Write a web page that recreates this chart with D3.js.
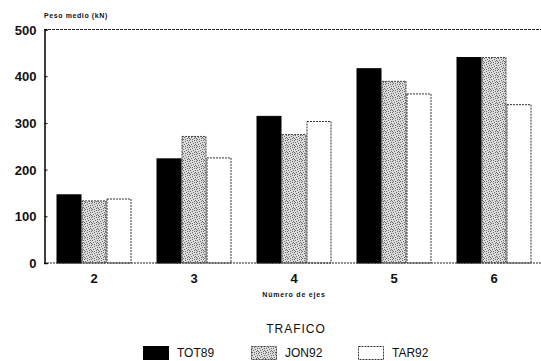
<!DOCTYPE html>
<html><head><meta charset="utf-8">
<script src="https://cdn.jsdelivr.net/npm/d3@7/dist/d3.min.js"></script>
<style>
html,body{margin:0;padding:0;background:#fff;}
svg{display:block;}
text{font-family:"Liberation Sans",Arial,sans-serif;fill:#111;}
</style></head>
<body>
<script>
const categories = ["2","3","4","5","6"];
const seriesNames = ["TOT89","JON92","TAR92"];
const TOT89 = [146, 223, 314, 416, 440];
const JON92 = [133, 271, 275, 389, 440];
const TAR92 = [137, 225, 303, 362, 339];
const yTicks = [0,100,200,300,400,500];
const yTitle = "Peso medio (kN)";
const xTitle = "Número de ejes";
const legendTitle = "TRAFICO";

const W=541,H=361;
const svg=d3.select("body").append("svg").attr("width",W).attr("height",H);
const defs=svg.append("defs");
// stipple pattern
const pat=defs.append("pattern").attr("id","stip").attr("patternUnits","userSpaceOnUse").attr("width",7).attr("height",7);
pat.append("rect").attr("width",7).attr("height",7).attr("fill","#dcdcdc");
const dots=[[0,0],[3,1],[5,0],[1,2],[4,3],[6,2],[2,4],[0,5],[5,5],[3,6],[6,4],[1,6]];
dots.forEach(d=>pat.append("rect").attr("x",d[0]).attr("y",d[1]).attr("width",1).attr("height",1).attr("fill","#6a6a6a"));

const x0=d3.scaleBand().domain(categories).range([44,544]).paddingInner(0.25).paddingOuter(0.125);
const x1=d3.scaleBand().domain(seriesNames).range([0,x0.bandwidth()]);
const y=d3.scaleLinear().domain([0,500]).range([263,29.5]);

const data={TOT89,JON92,TAR92};
const fills={TOT89:"#000",JON92:"url(#stip)",TAR92:"#fff"};
const strokes={TOT89:"#000",JON92:"#444",TAR92:"#333"};
const dashes={TOT89:null,JON92:"2,1",TAR92:"2,1"};

// top line
svg.append("line").attr("x1",44).attr("x2",541).attr("y1",y(500)).attr("y2",y(500))
  .attr("stroke","#222").attr("stroke-width",1).attr("stroke-dasharray","3,1");

seriesNames.forEach(s=>{
  svg.append("g").selectAll("rect").data(categories).join("rect")
    .attr("x",c=>x0(c)+x1(s)+0.5).attr("y",(c,i)=>y(data[s][i]))
    .attr("width",x1.bandwidth()-1).attr("height",(c,i)=>y(0)-y(data[s][i]))
    .attr("fill",fills[s]).attr("stroke",strokes[s]).attr("stroke-width",1)
    .attr("stroke-dasharray",dashes[s]);
});

// baseline
svg.append("line").attr("x1",44).attr("x2",541).attr("y1",y(0)).attr("y2",y(0))
  .attr("stroke","#222").attr("stroke-width",1).attr("stroke-dasharray","2,1");

// y axis
const ya=svg.append("g").attr("transform","translate(44.5,0)")
  .call(d3.axisLeft(y).tickValues(yTicks).tickSize(-3).tickPadding(8));
ya.select(".domain").attr("stroke","#000").attr("stroke-width",1.5);
ya.selectAll(".tick line").attr("stroke","#000");
ya.selectAll("text").style("font-size","13px").style("font-weight","bold").attr("fill","#111").attr("dy","0.35em");

// x axis labels
const xa=svg.append("g").attr("transform",`translate(0,${y(0)})`)
  .call(d3.axisBottom(x0).tickSize(0).tickPadding(11));
xa.select(".domain").remove();
xa.selectAll("text").style("font-size","13px").style("font-weight","bold").attr("fill","#111");

svg.append("text").attr("x",44).attr("y",18).text(yTitle)
  .style("font-size","7px").style("font-weight","bold").style("letter-spacing","0.6px");
svg.append("text").attr("x",294).attr("y",297).attr("text-anchor","middle").text(xTitle)
  .style("font-size","7px").style("font-weight","bold").style("letter-spacing","0.8px");

svg.append("text").attr("x",296).attr("y",333).attr("text-anchor","middle").text(legendTitle)
  .style("font-size","12px").style("letter-spacing","1px");

const legX=[143,251,358];
const lg=svg.append("g").selectAll("g").data(seriesNames).join("g")
  .attr("transform",(d,i)=>`translate(${legX[i]},346)`);
lg.append("rect").attr("x",0.5).attr("y",0.5).attr("width",25).attr("height",13)
  .attr("fill",d=>fills[d]).attr("stroke",d=>strokes[d]).attr("stroke-dasharray",d=>dashes[d]);
lg.append("text").attr("x",34).attr("y",11).text(d=>d)
  .style("font-size","12px");
</script>
</body></html>
